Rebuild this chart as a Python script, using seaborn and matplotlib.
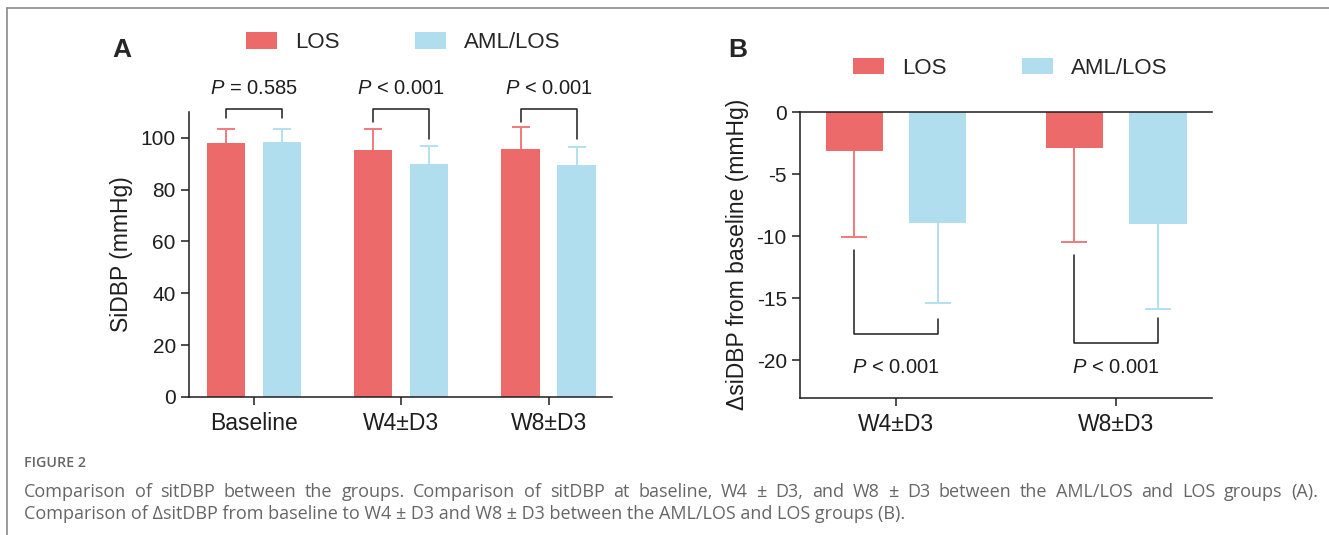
import matplotlib
matplotlib.use("Agg")
import matplotlib.pyplot as plt
import seaborn as sns
import numpy as np
import pandas as pd
from matplotlib.lines import Line2D

sns.set_theme(style="ticks")
plt.rcParams['font.family'] = ['Liberation Sans', 'DejaVu Sans']
plt.rcParams['mathtext.fontset'] = 'custom'
plt.rcParams['mathtext.it'] = 'Liberation Sans:italic'
plt.rcParams['mathtext.rm'] = 'Liberation Sans'
plt.rcParams['axes.unicode_minus'] = False

# panel A: sitDBP by visit (mean, SD)
times_a = ['Baseline', 'W4±D3', 'W8±D3']
los_a = [98.1, 95.2, 95.5]
los_a_sd = [5.4, 8.3, 8.5]
aml_a = [98.4, 89.7, 89.5]
aml_a_sd = [5.1, 7.2, 7.1]
p_a = ['= 0.585', '< 0.001', '< 0.001']

# panel B: change from baseline (mean, SD)
times_b = ['W4±D3', 'W8±D3']
los_b = [-3.1, -2.9]
los_b_sd = [6.95, 7.55]
aml_b = [-8.9, -9.05]
aml_b_sd = [6.5, 6.8]
p_b = ['< 0.001', '< 0.001']

groups = ['LOS', 'AML/LOS']
red = '#EC6A6A'
blue = '#B0DEEF'
red_err = '#F07B7B'
blue_err = '#B3E0F0'
dark = '#1E1E1E'

df_a = pd.DataFrame({'time': times_a * 2, 'group': ['LOS'] * 3 + ['AML/LOS'] * 3,
                     'value': los_a + aml_a})
df_b = pd.DataFrame({'time': times_b * 2, 'group': ['LOS'] * 2 + ['AML/LOS'] * 2,
                     'value': los_b + aml_b})

fig = plt.figure(figsize=(13.29, 5.35), dpi=100)
ax1 = fig.add_axes([0.1422, 0.258, 0.3183, 0.533])
ax2 = fig.add_axes([0.602, 0.2566, 0.31, 0.534])


def draw(ax, df, sds, upward, capsize):
    sns.barplot(data=df, x='time', y='value', hue='group', hue_order=groups,
                palette=[red, blue], saturation=1, width=0.76, gap=0.316,
                errorbar=None, linewidth=0, ax=ax)
    centers = [[p.get_x() + p.get_width() / 2 for p in c] for c in list(ax.containers)]
    means = [df[df.group == g].value.tolist() for g in groups]
    for xs, sd, col, mean in zip(centers, sds, [red_err, blue_err], means):
        zeros = np.zeros(len(sd))
        yerr = [zeros, sd] if upward else [sd, zeros]
        _, caps, _ = ax.errorbar(xs, mean, yerr=yerr, fmt='none', ecolor=col,
                                 elinewidth=1.4, capsize=capsize, capthick=1.4, zorder=0.5)
        # keep only the cap at the far end of the bar
        for c in caps:
            if np.allclose(c.get_ydata(), mean):
                c.set_visible(False)
    return centers


xa = draw(ax1, df_a, [los_a_sd, aml_a_sd], True, 6.8)
xb = draw(ax2, df_b, [los_b_sd, aml_b_sd], False, 9.7)

# panel A styling
ax1.set_ylim(0, 110)
ax1.set_xlim(-0.44, 2.43)
ax1.set_yticks(range(0, 101, 20))
ax1.set_xlabel('')
ax1.set_ylabel('SiDBP (mmHg)', fontsize=16.5, color=dark)
ax1.yaxis.set_label_coords(-0.133, 0.5)
sns.despine(ax=ax1)

# brackets A
top_a = 111
left_bot_a = [107.6, 106.1, 106.1]
right_bot_a = [107.6, 99.6, 99.6]
for i in range(3):
    x0, x1 = xa[0][i], xa[1][i]
    ax1.plot([x0, x0, x1, x1], [left_bot_a[i], top_a, top_a, right_bot_a[i]],
             color=dark, lw=1.1, clip_on=False)
    ax1.text(i, 119, r'$\it{P}$ ' + p_a[i], ha='center', va='center',
             fontsize=14.5, color=dark, clip_on=False)

# panel B styling
ax2.set_ylim(-23, 0)
ax2.set_xlim(-0.436, 1.436)
ax2.set_yticks([0, -5, -10, -15, -20])
ax2.set_xlabel('')
ax2.set_ylabel('ΔsiDBP from baseline (mmHg)', fontsize=16.5, color=dark)
ax2.yaxis.set_label_coords(-0.124, 0.5)
ax2.spines['right'].set_visible(False)

# brackets B
bot_b = [-17.9, -18.6]
left_top_b = [-11.1, -11.5]
right_top_b = [-16.7, -16.6]
for i in range(2):
    x0, x1 = xb[0][i], xb[1][i]
    ax2.plot([x0, x0, x1, x1], [left_top_b[i], bot_b[i], bot_b[i], right_top_b[i]],
             color=dark, lw=1.1)
    ax2.text(i, -20.6, r'$\it{P}$ ' + p_b[i], ha='center', va='center',
             fontsize=14.5, color=dark)

for ax in (ax1, ax2):
    for s in ax.spines.values():
        s.set_linewidth(1.1)
        s.set_color(dark)
    ax.tick_params(axis='both', colors=dark, length=6, width=1.1)
    ax.tick_params(axis='y', labelsize=15)
    ax.tick_params(axis='x', labelsize=16.5, pad=5)

leg_kw = dict(ncol=2, frameon=False, title=None, fontsize=16, handlelength=1.4,
              handleheight=0.77, handletextpad=0.8, columnspacing=3.4)
sns.move_legend(ax1, 'center', bbox_to_anchor=(0.507, 1.242), **leg_kw)
sns.move_legend(ax2, 'center', bbox_to_anchor=(0.51, 1.154), **leg_kw)

fig.text(0.092, 0.9065, 'A', fontsize=19, fontweight='bold', ha='center', va='center')
fig.text(0.555, 0.9065, 'B', fontsize=19, fontweight='bold', ha='center', va='center')

# caption
cap_col = '#666666'
cap_font = ['Open Sans', 'DejaVu Sans']
x0_px, x1_px = 24, 1318
fig.text(x0_px / 1329, 1 - 463 / 535, 'FIGURE 2', fontsize=10.3, fontweight='semibold',
         color=cap_col, va='center', family=cap_font)

line1 = ('Comparison of sitDBP between the groups. Comparison of sitDBP at baseline, W4 ± D3, '
         'and W8 ± D3 between the AML/LOS and LOS groups (A).')
line2 = ('Comparison of ΔsitDBP from baseline to W4 ± D3 and W8 ± D3 between the AML/LOS '
         'and LOS groups (B).')

# first line is justified across the full width, as in the source
renderer = fig.canvas.get_renderer()
words = line1.split(' ')
objs = [fig.text(0, 1 - 492 / 535, w, fontsize=13, color=cap_col, va='center',
                 family=cap_font) for w in words]
widths = [o.get_window_extent(renderer).width for o in objs]
gap = (x1_px - x0_px - sum(widths)) / (len(words) - 1)
xpos = x0_px
for o, w in zip(objs, widths):
    o.set_x(xpos / 1329)
    xpos += w + gap
fig.text(x0_px / 1329, 1 - 514 / 535, line2, fontsize=13, color=cap_col, va='center',
         family=cap_font)

# frame lines of the figure box
fig.add_artist(Line2D([7 / 1329, 1], [1 - 8 / 535, 1 - 8 / 535], color='#8a8a8a', lw=1.2))
fig.add_artist(Line2D([7 / 1329, 7 / 1329], [0, 1 - 8 / 535], color='#8a8a8a', lw=1.2))

fig.savefig('out.png', dpi=100)
